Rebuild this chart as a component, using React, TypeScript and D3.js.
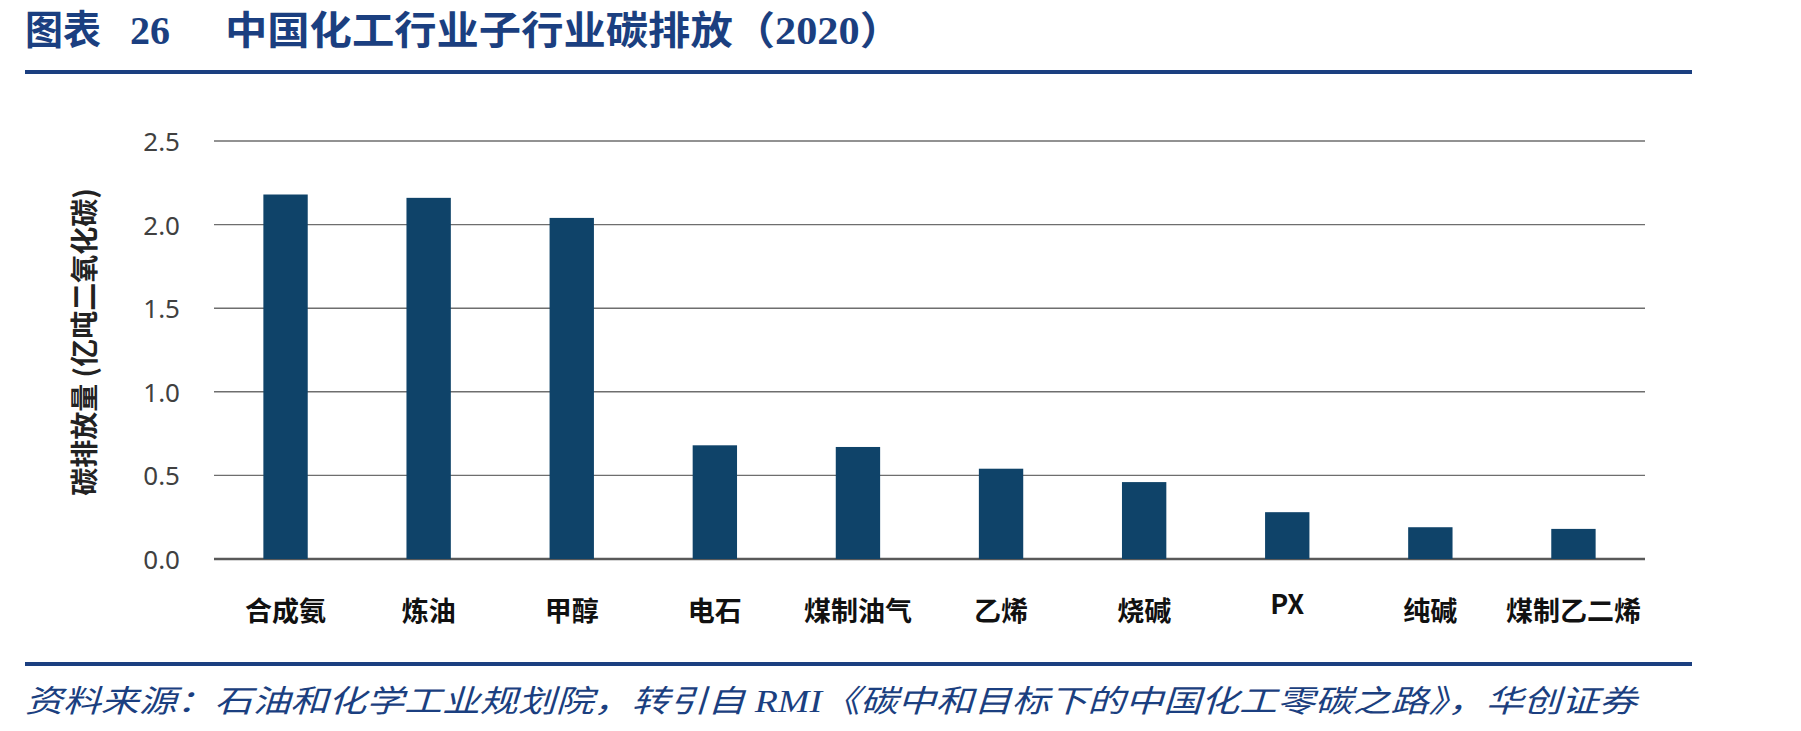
import React from "react";
import * as d3 from "d3";

const categories = ["合成氨", "炼油", "甲醇", "电石", "煤制油气", "乙烯", "烧碱", "PX", "纯碱", "煤制乙二烯"];
const emissions = [2.18, 2.16, 2.04, 0.68, 0.67, 0.54, 0.46, 0.28, 0.19, 0.18];
const yTicks = [0, 0.5, 1.0, 1.5, 2.0, 2.5];

const titleLead = "图表";
const titleNum = "26";
const titleMain = "中国化工行业子行业碳排放（2020）";
const yTitle = "碳排放量 (亿吨二氧化碳)";
const sourceNote = "资料来源：石油和化学工业规划院，转引自 RMI《碳中和目标下的中国化工零碳之路》，华创证券";

const W = 1801;
const H = 731;
const plot = { left: 214, right: 1645, top: 141, bottom: 559 };

const BLUE = "#1b3f80";
const BAR = "#0f4369";
const CJK_SANS = "'Noto Sans CJK SC', 'Noto Sans', sans-serif";
const SERIF = "'Liberation Serif', 'DejaVu Serif', 'Noto Sans CJK SC', serif";

export default function App() {
  const x = d3
    .scaleBand<string>()
    .domain(categories)
    .range([plot.left, plot.right])
    .paddingInner(0.69)
    .paddingOuter(0.345);
  const y = d3.scaleLinear().domain([0, 2.5]).range([plot.bottom, plot.top]);
  const fmt = d3.format(".1f");

  return (
    <svg
      width={W}
      height={H}
      viewBox={`0 0 ${W} ${H}`}
      style={{ position: "absolute", left: 0, top: 0, display: "block", background: "#fff" }}
    >
      {/* heading */}
      <g fill={BLUE} fontWeight="bold">
        <text x={25} y={44} fontSize={40} fontFamily={SERIF} textLength={76} lengthAdjust="spacingAndGlyphs">
          {titleLead}
        </text>
        <text x={130} y={44} fontSize={40} fontFamily={SERIF}>
          {titleNum}
        </text>
        <text x={225} y={44} fontSize={39} fontFamily={SERIF} textLength={677} lengthAdjust="spacingAndGlyphs">
          {titleMain}
        </text>
      </g>
      <line x1={25} x2={1692} y1={72} y2={72} stroke={BLUE} strokeWidth={4} />

      {/* gridlines */}
      {yTicks.map((t) => (
        <line
          key={`g${t}`}
          x1={plot.left}
          x2={plot.right}
          y1={y(t)}
          y2={y(t)}
          stroke={t === 0 ? "#595959" : "#6e6e6e"}
          strokeWidth={t === 0 ? 2.5 : 1.4}
        />
      ))}

      {/* y tick labels */}
      {yTicks.map((t) => (
        <text
          key={`t${t}`}
          x={180}
          y={y(t)}
          textAnchor="end"
          dominantBaseline="central"
          fontSize={26}
          fontFamily="'Noto Sans', 'Open Sans', sans-serif"
          fill="#404040"
        >
          {fmt(t)}
        </text>
      ))}

      {/* y axis title */}
      <text
        transform={`translate(83, ${(plot.top + plot.bottom) / 2 - 8}) rotate(-90)`}
        textAnchor="middle"
        dominantBaseline="central"
        fontSize={28}
        fontWeight="bold"
        fontFamily={CJK_SANS}
        fill="#222"
      >
        {yTitle}
      </text>

      {/* bars */}
      {categories.map((c, i) => (
        <rect
          key={c}
          x={x(c)}
          y={y(emissions[i])}
          width={x.bandwidth()}
          height={y(0) - y(emissions[i])}
          fill={BAR}
        />
      ))}

      {/* category labels */}
      {categories.map((c) => {
        const latin = /^[A-Za-z]+$/.test(c);
        return (
          <text
            key={`l${c}`}
            x={(x(c) ?? 0) + x.bandwidth() / 2}
            y={latin ? 602 : 609}
            textAnchor="middle"
            dominantBaseline="central"
            fontSize={27}
            fontWeight="bold"
            fontFamily={CJK_SANS}
            fill="#111"
          >
            {c}
          </text>
        );
      })}

      {/* source */}
      <line x1={25} x2={1692} y1={664} y2={664} stroke={BLUE} strokeWidth={4} />
      <text
        x={25}
        y={712}
        fontSize={31}
        fontStyle="italic"
        fontFamily={SERIF}
        fill={BLUE}
        textLength={1612}
        lengthAdjust="spacingAndGlyphs"
      >
        {sourceNote}
      </text>
    </svg>
  );
}
